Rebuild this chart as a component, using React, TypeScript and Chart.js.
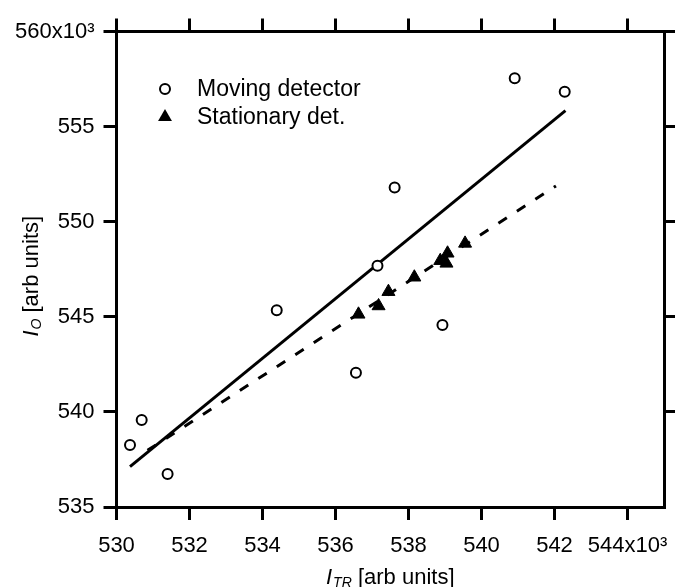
import React, { useEffect, useRef } from 'react';
import { Chart, registerables } from 'chart.js';

Chart.register(...registerables);

// Moving detector (open circles)
const movingX = [530.37, 530.69, 531.40, 534.39, 536.56, 537.15, 537.62, 538.93, 540.91, 542.28];
const movingY = [538.26, 539.57, 536.74, 545.34, 542.06, 547.69, 551.80, 544.57, 557.54, 556.83];

// Stationary detector (filled triangles)
const stationaryX = [536.63, 537.18, 537.45, 538.16, 538.87, 539.04, 539.07, 539.55];
const stationaryY = [545.13, 545.57, 546.32, 547.08, 547.95, 547.81, 548.34, 548.86];

// Linear fits (end points)
const fitMovingX = [530.37, 542.30];
const fitMovingY = [537.12, 555.84];
const fitStationaryX = [530.85, 542.04];
const fitStationaryY = [537.98, 551.88];

const legendLabels = ['Moving detector', 'Stationary det.'];
const xTitleParts = ['I', 'TR', ' [arb units]'];
const yTitleParts = ['I', 'O', ' [arb units]'];
const xLastTickLabel = '544x10³';
const yLastTickLabel = '560x10³';

const FONT = '"Liberation Sans", Arial, Helvetica, sans-serif';

const toPts = (xs: number[], ys: number[]) => xs.map((x, i) => ({ x, y: ys[i] }));

function drawRichTitle(ctx: CanvasRenderingContext2D, parts: string[], x: number, y: number) {
  const mainFont = `italic 22px ${FONT}`;
  const subFont = `italic 14px ${FONT}`;
  const restFont = `22px ${FONT}`;
  ctx.font = mainFont;
  const w1 = ctx.measureText(parts[0]).width;
  ctx.font = subFont;
  const w2 = ctx.measureText(parts[1]).width;
  ctx.font = restFont;
  const w3 = ctx.measureText(parts[2]).width;
  let cx = x - (w1 + w2 + w3 + 1) / 2;
  ctx.textAlign = 'left';
  ctx.textBaseline = 'alphabetic';
  ctx.font = mainFont;
  ctx.fillText(parts[0], cx, y);
  cx += w1 + 1;
  ctx.font = subFont;
  ctx.fillText(parts[1], cx, y + 3);
  cx += w2;
  ctx.font = restFont;
  ctx.fillText(parts[2], cx, y);
}

const decorPlugin = {
  id: 'decor',
  afterDraw(chart: any) {
    const ctx: CanvasRenderingContext2D = chart.ctx;
    const { left, right, top, bottom } = chart.chartArea;
    ctx.save();
    ctx.fillStyle = '#000';
    ctx.strokeStyle = '#000';
    // X title
    drawRichTitle(ctx, xTitleParts, (left + right) / 2, bottom + 77);
    // Y title
    ctx.save();
    ctx.translate(37.5, (top + bottom) / 2 + 7);
    ctx.rotate(-Math.PI / 2);
    drawRichTitle(ctx, yTitleParts, 0, 0);
    ctx.restore();

    // Legend
    const mx = left + 48.5;
    const r1 = top + 57.5;
    const r2 = top + 85.5;
    ctx.lineWidth = 2;
    ctx.beginPath();
    ctx.arc(mx, r1, 5, 0, Math.PI * 2);
    ctx.fillStyle = '#fff';
    ctx.fill();
    ctx.stroke();
    ctx.fillStyle = '#000';
    const tr = 8;
    ctx.beginPath();
    ctx.moveTo(mx, r2 - tr);
    ctx.lineTo(mx + tr * Math.sin((2 * Math.PI) / 3), r2 - tr * Math.cos((2 * Math.PI) / 3));
    ctx.lineTo(mx + tr * Math.sin((4 * Math.PI) / 3), r2 - tr * Math.cos((4 * Math.PI) / 3));
    ctx.closePath();
    ctx.fill();
    ctx.font = `23px ${FONT}`;
    ctx.textAlign = 'left';
    ctx.textBaseline = 'middle';
    ctx.fillText(legendLabels[0], left + 80.5, r1 + 1);
    ctx.fillText(legendLabels[1], left + 80.5, r2 + 1);
    ctx.restore();
  },
};

export default function App() {
  const ref = useRef<HTMLCanvasElement>(null);
  useEffect(() => {
    document.body.style.margin = '0';
    const canvas = ref.current!;
    const gridOpts = (extra: any = {}) => ({
      drawOnChartArea: false,
      drawTicks: true,
      tickLength: 13,
      tickWidth: 3,
      lineWidth: 3,
      color: '#000',
      tickColor: '#000',
      ...extra,
    });
    const borderOpts = { display: true, width: 3, color: '#000' };
    const tickFont = { family: FONT, size: 22 };
    const noPad = (s: any) => {
      s.paddingLeft = 0;
      s.paddingRight = 0;
      s.paddingTop = 0;
      s.paddingBottom = 0;
    };

    const chart = new Chart(canvas, {
      type: 'scatter',
      data: {
        datasets: [
          {
            label: legendLabels[0],
            data: toPts(movingX, movingY),
            pointStyle: 'circle',
            pointRadius: 5,
            pointHoverRadius: 5,
            borderWidth: 2,
            borderColor: '#000',
            backgroundColor: '#fff',
            showLine: false,
          },
          {
            label: legendLabels[1],
            data: toPts(stationaryX, stationaryY),
            pointStyle: 'triangle',
            pointRadius: 7.5,
            pointHoverRadius: 7.5,
            borderWidth: 1,
            borderColor: '#000',
            backgroundColor: '#000',
            showLine: false,
          },
          {
            label: 'fit moving',
            data: toPts(fitMovingX, fitMovingY),
            showLine: true,
            borderColor: '#000',
            backgroundColor: '#000',
            borderWidth: 3,
            pointRadius: 0,
            pointHoverRadius: 0,
            fill: false,
          },
          {
            label: 'fit stationary',
            data: toPts(fitStationaryX, fitStationaryY),
            showLine: true,
            borderColor: '#000',
            backgroundColor: '#000',
            borderWidth: 3,
            borderDash: [10, 12],
            pointRadius: 0,
            pointHoverRadius: 0,
            fill: false,
          },
        ],
      },
      options: {
        responsive: false,
        animation: false,
        devicePixelRatio: 1,
        events: [],
        layout: { padding: 0 },
        plugins: {
          legend: { display: false },
          tooltip: { enabled: false },
          title: { display: false },
        },
        scales: {
          x: {
            type: 'linear',
            axis: 'x',
            position: 'bottom',
            min: 530,
            max: 545,
            grid: gridOpts(),
            border: borderOpts,
            ticks: {
              stepSize: 2,
              includeBounds: false,
              autoSkip: false,
              maxRotation: 0,
              padding: 13,
              color: '#000',
              font: tickFont,
              callback: (v: any) => (Number(v) === 544 ? xLastTickLabel : String(v)),
            },
            afterFit: (s: any) => {
              s.height = 80;
              noPad(s);
            },
          },
          x2: {
            type: 'linear',
            axis: 'x',
            position: 'top',
            min: 530,
            max: 545,
            grid: gridOpts(),
            border: borderOpts,
            ticks: { stepSize: 2, includeBounds: false, display: false },
            afterFit: (s: any) => {
              s.height = 31.5;
              noPad(s);
            },
          },
          y: {
            type: 'linear',
            axis: 'y',
            position: 'left',
            min: 535,
            max: 560,
            grid: gridOpts(),
            border: borderOpts,
            ticks: {
              stepSize: 5,
              padding: 9,
              color: '#000',
              font: tickFont,
              callback: (v: any) => (Number(v) === 560 ? yLastTickLabel : String(v)),
            },
            afterFit: (s: any) => {
              s.width = 116.5;
              noPad(s);
            },
          },
          y2: {
            type: 'linear',
            axis: 'y',
            position: 'right',
            min: 535,
            max: 560,
            grid: gridOpts({
              tickColor: (c: any) => (c.tick && c.tick.value === 535 ? 'rgba(0,0,0,0)' : '#000'),
            }),
            border: borderOpts,
            ticks: { stepSize: 5, display: false },
            afterFit: (s: any) => {
              s.width = 11;
              noPad(s);
            },
          },
        },
      } as any,
      plugins: [decorPlugin],
    });
    return () => chart.destroy();
  }, []);
  return <canvas ref={ref} width={675} height={587} style={{ display: 'block' }} />;
}
